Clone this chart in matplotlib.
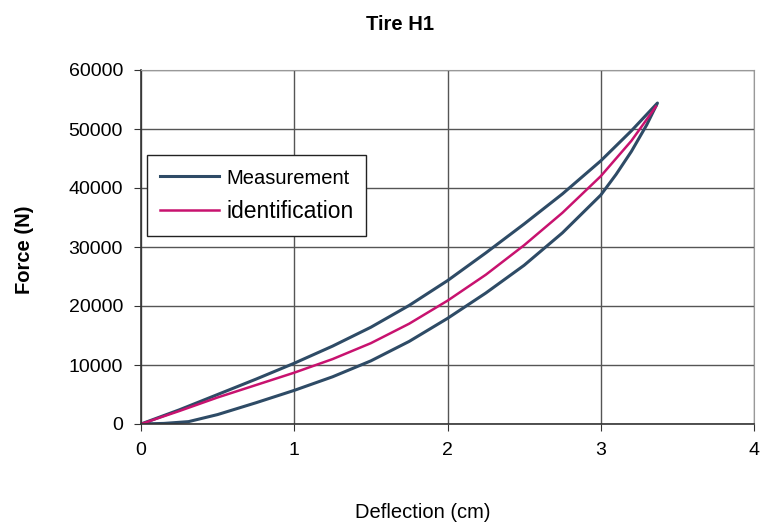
import matplotlib.pyplot as plt
import numpy as np

plt.rcParams['font.family'] = ['Liberation Sans', 'DejaVu Sans']

# measured loop: upper branch going out, lower branch coming back
up_x = [0.0, 0.25, 0.5, 0.75, 1.0, 1.25, 1.5, 1.75, 2.0, 2.25, 2.5, 2.75, 3.0, 3.2, 3.37]
up_y = [0, 2400, 5000, 7600, 10300, 13200, 16400, 20100, 24300, 29000, 33900, 39000, 44600, 49700, 54400]
low_x = [3.37, 3.3, 3.2, 3.1, 3.0, 2.75, 2.5, 2.25, 2.0, 1.75, 1.5, 1.25, 1.0, 0.75, 0.5, 0.31, 0.15, 0.0]
low_y = [54400, 50700, 46200, 42300, 38800, 32400, 26900, 22200, 17900, 14000, 10700, 8000, 5700, 3600,
         1600, 400, 100, 0]
meas_x = up_x + low_x
meas_y = up_y + low_y

ident_x = [0.0, 0.25, 0.5, 0.75, 1.0, 1.25, 1.5, 1.75, 2.0, 2.25, 2.5, 2.75, 3.0, 3.2, 3.36]
ident_y = [0, 2200, 4500, 6600, 8700, 11000, 13700, 17000, 20900, 25300, 30300, 35800, 42000, 48000, 53800]

fig = plt.figure(figsize=(7.64, 5.25), dpi=100)
ax = fig.add_axes([141 / 764, 1 - 424 / 525, 613 / 764, 354 / 525])

ax.plot(meas_x, meas_y, color='#2e4b66', lw=2.2, label='Measurement')
ax.plot(ident_x, ident_y, color='#c8126f', lw=1.8, label='identification')

ax.set_xlim(0, 4)
ax.set_ylim(0, 60000)
ax.set_xticks(np.arange(0, 5, 1))
ax.set_yticks(np.arange(0, 70000, 10000))
ax.grid(True, color='#555555', lw=1.0)
ax.tick_params(labelsize=14, length=5, color='#333333', pad=8)
for s in ['left', 'bottom']:
    ax.spines[s].set_color('#333333')
    ax.spines[s].set_linewidth(1.2)
for s in ['top', 'right']:
    ax.spines[s].set_color('#999999')
    ax.spines[s].set_linewidth(0.8)

fig.text(0.524, 1 - 25 / 525, 'Tire H1', ha='center', va='center', fontsize=14.5, fontweight='bold')
fig.text(0.553, 1 - 512 / 525, 'Deflection (cm)', ha='center', va='center', fontsize=14.5)
fig.text(25 / 764, 1 - 250 / 525, 'Force (N)', ha='center', va='center', rotation=90, fontsize=14.5,
         fontweight='bold')

leg = ax.legend(loc='upper left', bbox_to_anchor=(0.01, 0.76), borderaxespad=0, fontsize=16.5, frameon=True,
                fancybox=False, framealpha=1, edgecolor='#222222', handlelength=2.6, handletextpad=0.3,
                borderpad=0.55, labelspacing=0.55)
leg.get_frame().set_linewidth(1.0)
leg.get_texts()[0].set_fontsize(14.5)

fig.savefig('out.png', dpi=100)
